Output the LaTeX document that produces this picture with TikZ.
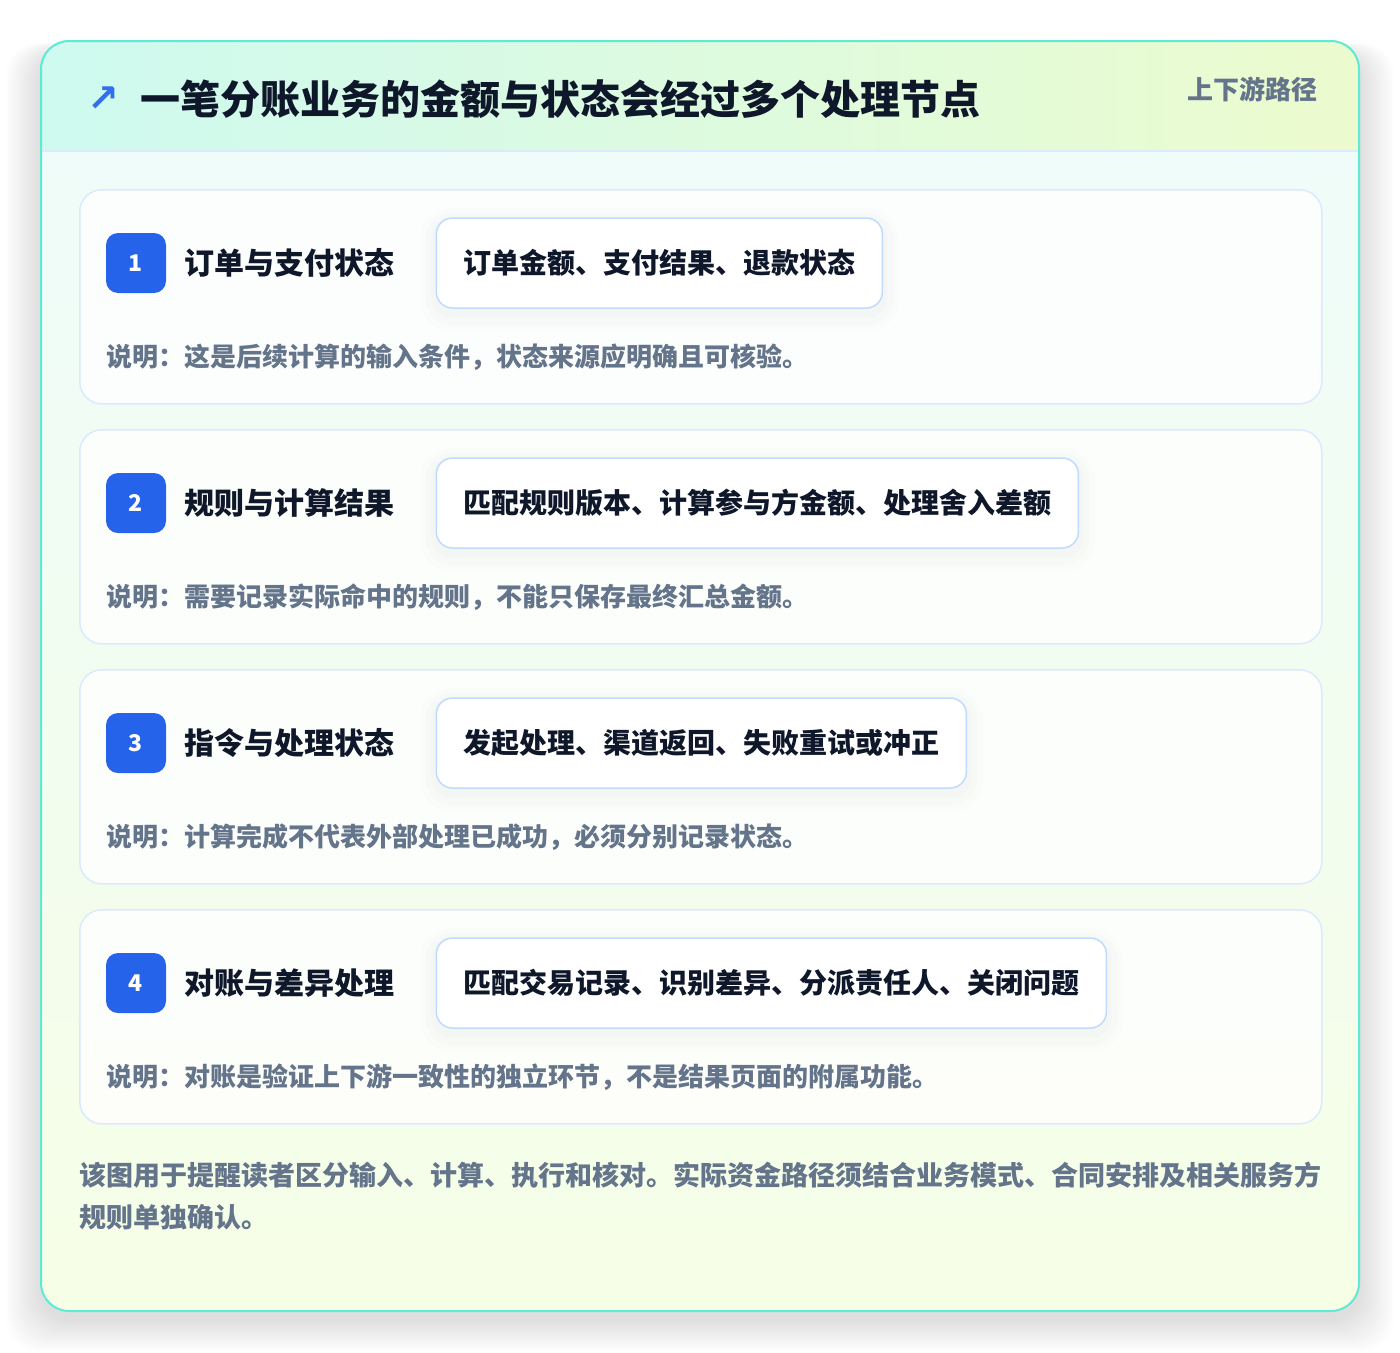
\documentclass[tikz,border=0pt]{standalone}
\usepackage{fontspec}
\setmainfont{Noto Sans CJK SC}
\newfontfamily\symfont{DejaVu Sans}
\usetikzlibrary{positioning}

\definecolor{frameTeal}{RGB}{94,234,212}
\definecolor{headMint}{RGB}{206,250,240}
\definecolor{headLime}{RGB}{236,251,206}
\definecolor{bodyMint}{RGB}{239,252,249}
\definecolor{bodyLime}{RGB}{246,254,230}
\definecolor{cardLine}{RGB}{219,234,254}
\definecolor{pillLine}{RGB}{191,219,254}
\definecolor{badgeBlue}{RGB}{37,99,235}
\definecolor{arrowBlue}{RGB}{50,110,240}
\definecolor{inkDark}{RGB}{15,23,42}
\definecolor{inkGray}{RGB}{100,116,139}

\tikzset{
  % --- CARTOES ---
  stepCard/.style={draw=cardLine, line width=1.5pt, fill=white, fill opacity=0.8,
    rounded corners=22pt, minimum width=1242pt, minimum height=214pt, inner sep=0pt, anchor=north west},
  stepBadge/.style={fill=badgeBlue, rounded corners=12pt, minimum size=60pt, inner sep=0pt,
    text=white, font=\fontsize{23}{23}\selectfont\bfseries},
  stepTitle/.style={inner sep=0pt, text=inkDark, font=\fontsize{30}{30}\selectfont\bfseries},
  pillBox/.style={draw=pillLine, line width=1.5pt, fill=white, rounded corners=16pt,
    minimum height=90pt, inner xsep=27pt, inner ysep=0pt,
    text=inkDark, font=\fontsize{28}{28}\selectfont\bfseries,
    preaction={draw=black, draw opacity=0.008, line width=34pt, transform canvas={yshift=-7pt}},
    preaction={draw=black, draw opacity=0.010, line width=22pt, transform canvas={yshift=-6pt}},
    preaction={draw=black, draw opacity=0.012, line width=10pt, transform canvas={yshift=-5pt}}},
  noteText/.style={anchor=west, inner sep=0pt, text=inkGray, font=\fontsize{26}{26}\selectfont\bfseries}
}

\begin{document}
\begin{tikzpicture}[x=1pt, y=-1pt]
  \useasboundingbox (0,0) rectangle (1400,1352);
  \fill[white] (0,0) rectangle (1400,1352);

  %% --- SOMBRA DO QUADRO ---
  \foreach \s in {1,...,16} {
    \fill[black, opacity=0.0065, rounded corners=34pt]
      ({41-2.2*\s},{41-0.5*\s+10}) rectangle ({1359+2.2*\s},{1311+2*\s+8});
  }

  %% --- QUADRO EXTERNO ---
  \begin{scope}
    \clip[rounded corners=28pt] (41,41) rectangle (1359,1311);
    \shade[top color=bodyMint, bottom color=bodyLime] (41,151) rectangle (1359,1311);
    \shade[left color=headMint, right color=headLime] (41,41) rectangle (1359,151);
    \draw[cardLine, line width=1.5pt] (41,151) -- (1359,151);
  \end{scope}
  \draw[frameTeal, line width=2pt, rounded corners=28pt] (41,41) rectangle (1359,1311);

  % Titulo
  \node[anchor=west, inner sep=0pt, text=inkDark, font=\fontsize{40}{40}\selectfont\bfseries]
    (headTitle) at (140,99) {一笔分账业务的金额与状态会经过多个处理节点};
  \node[left=20pt of headTitle, inner sep=0pt, text=arrowBlue, font=\symfont\bfseries\fontsize{38}{38}\selectfont]
    (headArrow) {↗};
  \node[anchor=east, inner sep=0pt, text=inkGray, font=\fontsize{26}{26}\selectfont\bfseries]
    (headTag) at (1318,89) {上下游路径};

  %% --- ETAPAS ---
  \foreach \idx/\stepName/\pillText/\noteLine [count=\k from 0] in {
    1/订单与支付状态/订单金额、支付结果、退款状态/说明：这是后续计算的输入条件，状态来源应明确且可核验。,
    2/规则与计算结果/匹配规则版本、计算参与方金额、处理舍入差额/说明：需要记录实际命中的规则，不能只保存最终汇总金额。,
    3/指令与处理状态/发起处理、渠道返回、失败重试或冲正/说明：计算完成不代表外部处理已成功，必须分别记录状态。,
    4/对账与差异处理/匹配交易记录、识别差异、分派责任人、关闭问题/说明：对账是验证上下游一致性的独立环节，不是结果页面的附属功能。} {
    \pgfmathsetmacro\cardTop{189+240*\k}
    \node[stepCard] (card\idx) at (79,\cardTop) {};
    \node[stepBadge] (badge\idx) at (136,{\cardTop+74}) {\idx};
    \node[stepTitle, right=18pt of badge\idx] (label\idx) {\stepName};
    \node[pillBox, right=41pt of label\idx] (pill\idx) {\pillText};
    \node[noteText] (note\idx) at (106,{\cardTop+168}) {\noteLine};
  }

  % Rodape
  \node[anchor=west, align=left, inner sep=0pt, text=inkGray, font=\fontsize{27}{42}\selectfont\bfseries]
    (footNote) at (79,1196) {该图用于提醒读者区分输入、计算、执行和核对。实际资金路径须结合业务模式、合同安排及相关服务方\\规则单独确认。};
\end{tikzpicture}
\end{document}
